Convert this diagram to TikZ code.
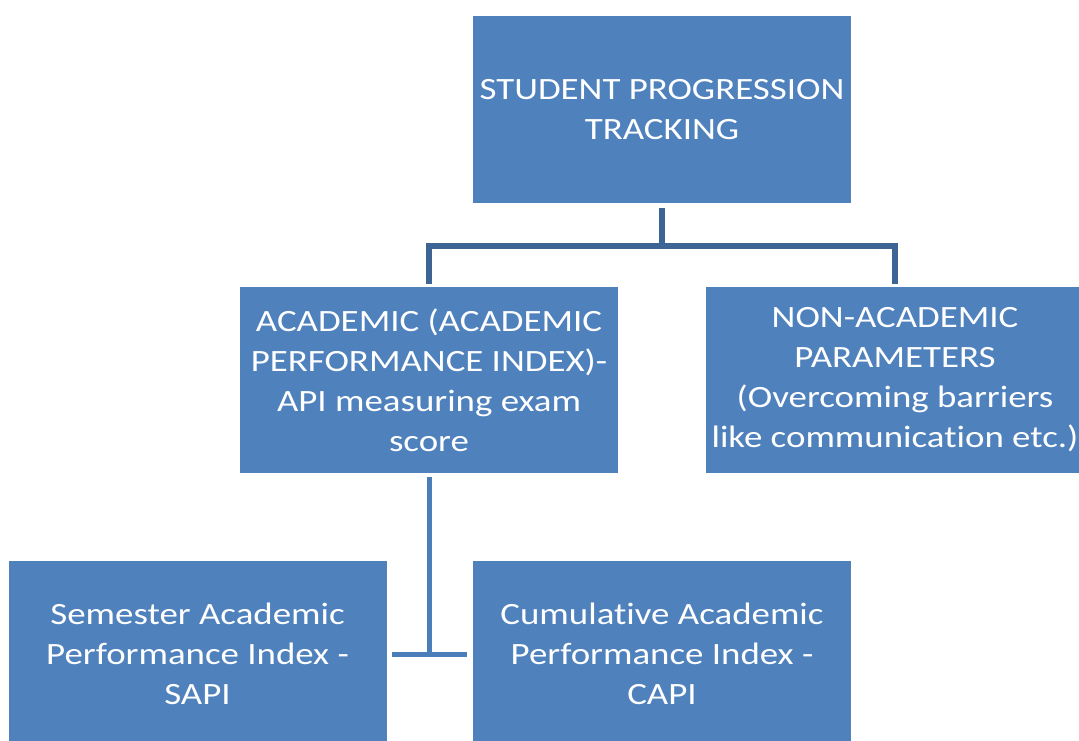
\documentclass[tikz,border=0pt]{standalone}
\usepackage{fontspec}
\setmainfont{Carlito}[FakeStretch=1.19,Ligatures={NoCommon}]
\definecolor{boxblue}{HTML}{4F81BD}
\definecolor{lineblue}{HTML}{3C6494}
\definecolor{lineblue2}{HTML}{4A7DBA}
\begin{document}
\begin{tikzpicture}[x=1pt,y=-1pt,
  box/.style={rectangle, fill=boxblue, draw=none, text=white, align=center,
    minimum width=378pt, minimum height=186pt, inner sep=0pt,
    font=\fontsize{31}{40}\selectfont},
  topline/.style={draw=lineblue, line width=6pt},
  botline/.style={draw=lineblue2, line width=5pt}]
\useasboundingbox (0,0) rectangle (1079,740);
\clip (0,0) rectangle (1079,740);
\node[box, minimum height=187pt] (top) at (662,109.5) {STUDENT PROGRESSION\\TRACKING};
\node[box] (acad) at (429,380) {ACADEMIC (ACADEMIC\\PERFORMANCE INDEX)-\\API measuring exam\\score};
\node[box] (nonacad) at (895,380) {NON-ACADEMIC\\PARAMETERS\\(Overcoming barriers\\like communication etc.)};
\node[box] (sapi) at (197.5,654) {Semester Academic\\Performance Index -\\SAPI};
\node[box] (capi) at (662,654) {Cumulative Academic\\Performance Index -\\CAPI};
\draw[topline] ([yshift=-5pt]top.south) -- ([yshift=-43pt]top.south);
\draw[topline] ([yshift=3pt]acad.north) |- ([yshift=-43pt]top.south) -| ([yshift=3pt]nonacad.north);
\draw[botline] ([yshift=-4pt]acad.south) -- (acad.south |- sapi.east);
\draw[botline] ([xshift=5pt]sapi.east) -- ([xshift=-6pt]capi.west);
\end{tikzpicture}
\end{document}
